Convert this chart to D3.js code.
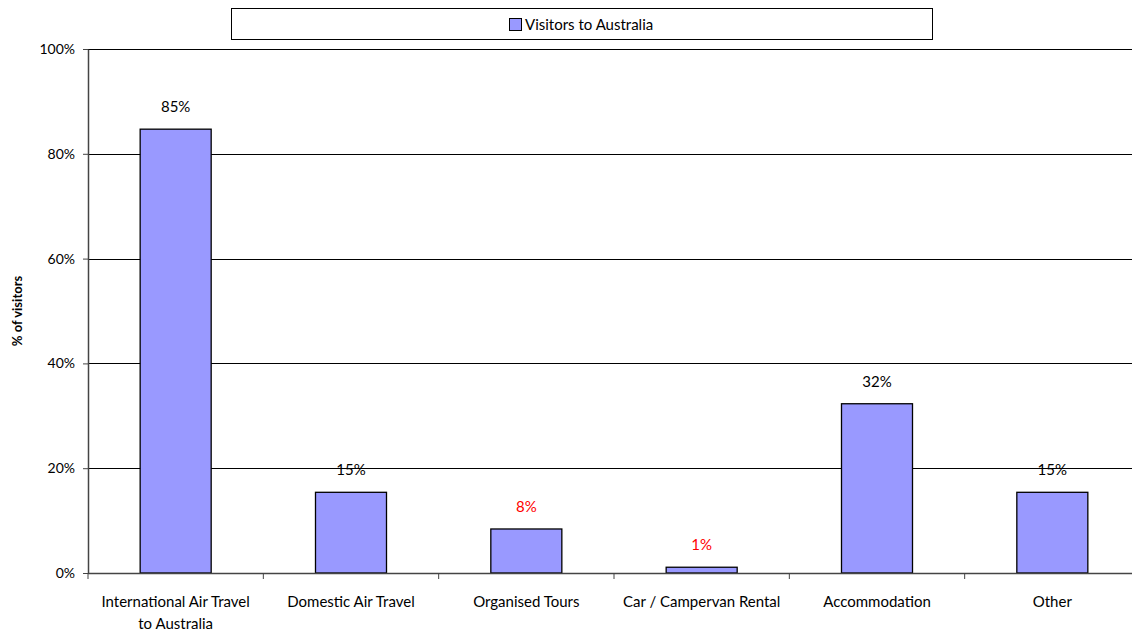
<!DOCTYPE html>
<html>
<head>
<meta charset="utf-8">
<script src="https://cdn.jsdelivr.net/npm/d3@7"></script>
<style>
  body { margin: 0; background: #fff; }
  svg { font-family: "Lato", "DejaVu Sans", sans-serif; }
</style>
</head>
<body>
<script>
// Chart data
var categories = ["International Air Travel|to Australia", "Domestic Air Travel", "Organised Tours",
  "Car / Campervan Rental", "Accommodation", "Other"];
var visitorValues = [84.7, 15.4, 8.4, 1.1, 32.3, 15.4];
var valueLabels = ["85%", "15%", "8%", "1%", "32%", "15%"];
var labelColors = ["#000", "#000", "#ff0000", "#ff0000", "#000", "#000"];
var yTicks = [0, 20, 40, 60, 80, 100];
var seriesName = "Visitors to Australia";

var svgWidth = 1132;
var svgHeight = 634;

var chartMargin = { top: 49, right: -8, bottom: 61, left: 88 };
var chartWidth = svgWidth - chartMargin.left - chartMargin.right;
var chartHeight = svgHeight - chartMargin.top - chartMargin.bottom;

var svg = d3.select("body")
  .append("svg")
  .attr("width", svgWidth)
  .attr("height", svgHeight);

var chartGroup = svg.append("g")
  .attr("transform", `translate(${chartMargin.left}, ${chartMargin.top})`);

var xBandScale = d3.scaleBand()
  .domain(categories)
  .range([0, chartWidth])
  .padding(0);

var yLinearScale = d3.scaleLinear()
  .domain([0, 100])
  .range([chartHeight, 0]);

// gridlines
chartGroup.selectAll(".grid")
  .data(yTicks.filter(d => d > 0))
  .enter()
  .append("line")
  .attr("class", "grid")
  .attr("x1", 0)
  .attr("x2", chartWidth)
  .attr("y1", d => Math.round(yLinearScale(d)) + 0.5)
  .attr("y2", d => Math.round(yLinearScale(d)) + 0.5)
  .attr("stroke", "#000")
  .attr("stroke-width", 1);

// bars
var barWidth = xBandScale.bandwidth() * 0.405;
chartGroup.selectAll(".bar")
  .data(visitorValues)
  .enter()
  .append("rect")
  .attr("class", "bar")
  .attr("x", (d, i) => xBandScale(categories[i]) + (xBandScale.bandwidth() - barWidth) / 2)
  .attr("y", d => yLinearScale(d))
  .attr("width", barWidth)
  .attr("height", d => chartHeight - yLinearScale(d))
  .attr("fill", "#9999ff")
  .attr("stroke", "#000")
  .attr("stroke-width", 1.3);

// value labels
chartGroup.selectAll(".value-label")
  .data(visitorValues)
  .enter()
  .append("text")
  .attr("class", "value-label")
  .attr("x", (d, i) => xBandScale(categories[i]) + xBandScale.bandwidth() / 2)
  .attr("y", d => yLinearScale(d) - 17)
  .attr("text-anchor", "middle")
  .attr("font-size", "15px")
  .attr("fill", (d, i) => labelColors[i])
  .text((d, i) => valueLabels[i]);

// y axis
var leftAxis = d3.axisLeft(yLinearScale)
  .tickValues(yTicks)
  .tickFormat(d => d + "%")
  .tickSize(5)
  .tickSizeOuter(0);

var yAxisGroup = chartGroup.append("g").call(leftAxis);
yAxisGroup.select(".domain").attr("stroke", "#444").attr("stroke-width", 1.5);
yAxisGroup.selectAll(".tick line").attr("stroke", "#444");
yAxisGroup.selectAll(".tick text")
  .attr("font-size", "14px")
  .attr("font-family", "Lato, DejaVu Sans, sans-serif")
  .attr("fill", "#000")
  .attr("x", -13);

// x axis
var xAxisGroup = chartGroup.append("g")
  .attr("transform", `translate(0, ${chartHeight})`);

xAxisGroup.append("line")
  .attr("x1", 0)
  .attr("x2", chartWidth)
  .attr("y1", 0.5)
  .attr("y2", 0.5)
  .attr("stroke", "#444")
  .attr("stroke-width", 1.5);

xAxisGroup.selectAll(".xtick")
  .data(categories)
  .enter()
  .append("line")
  .attr("class", "xtick")
  .attr("x1", d => xBandScale(d))
  .attr("x2", d => xBandScale(d))
  .attr("y1", 0)
  .attr("y2", 6)
  .attr("stroke", "#444");

xAxisGroup.selectAll(".xlabel")
  .data(categories)
  .enter()
  .append("text")
  .attr("class", "xlabel")
  .attr("text-anchor", "middle")
  .attr("font-size", "15px")
  .attr("fill", "#000")
  .each(function(d) {
    var lines = d.split("|");
    var t = d3.select(this);
    lines.forEach(function(line, i) {
      t.append("tspan")
        .attr("x", xBandScale(d) + xBandScale.bandwidth() / 2)
        .attr("y", 34 + i * 22)
        .text(line);
    });
  });

// y axis title
svg.append("text")
  .attr("transform", `translate(22, ${chartMargin.top + chartHeight / 2}) rotate(-90)`)
  .attr("text-anchor", "middle")
  .attr("font-size", "13px")
  .attr("font-weight", "bold")
  .text("% of visitors");

// legend
var legend = svg.append("g");
legend.append("rect")
  .attr("x", 231.5)
  .attr("y", 8.5)
  .attr("width", 701)
  .attr("height", 31)
  .attr("fill", "#fff")
  .attr("stroke", "#000")
  .attr("stroke-width", 1);

legend.append("rect")
  .attr("x", 509.5)
  .attr("y", 18.5)
  .attr("width", 12)
  .attr("height", 12)
  .attr("fill", "#9999ff")
  .attr("stroke", "#000")
  .attr("stroke-width", 1);

legend.append("text")
  .attr("x", 525)
  .attr("y", 30)
  .attr("font-size", "15px")
  .text(seriesName);
</script>
</body>
</html>
